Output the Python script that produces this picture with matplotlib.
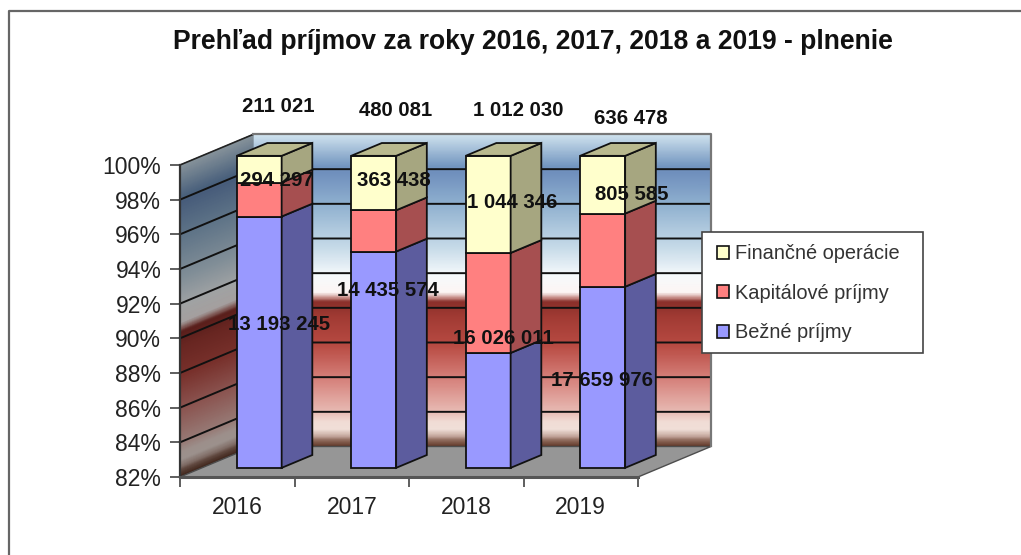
import numpy as np
import matplotlib
matplotlib.use('Agg')
import matplotlib.pyplot as plt
from matplotlib.colors import LinearSegmentedColormap
from matplotlib.lines import Line2D
from matplotlib.patches import Patch, Rectangle

plt.rcParams['font.family'] = ['Liberation Sans', 'DejaVu Sans']

# Data
years = ['2016', '2017', '2018', '2019']
series_names = ['Bežné príjmy', 'Kapitálové príjmy', 'Finančné operácie']
bezne_pct = [96.5, 94.48, 88.63, 92.45]
kapital_pct = [1.96, 2.38, 5.77, 4.22]
financne_pct = [1.54, 3.14, 5.60, 3.33]
bezne_text = ['13 193 245', '14 435 574', '16 026 011', '17 659 976']
kapital_text = ['294 297', '363 438', '1 044 346', '805 585']
financne_text = ['211 021', '480 081', '1 012 030', '636 478']
y_ticks = [82, 84, 86, 88, 90, 92, 94, 96, 98, 100]

# Label anchors in picture pixels, the labels were moved by hand in the original
bezne_xy = [(279, 325), (388, 290), (503, 339), (602, 381)]
kapital_xy = [(277, 180), (394, 181), (512, 202), (632, 195)]
financne_xy = [(278, 106), (396, 110), (518, 110), (631, 119)]

# 3D look: the walls are pushed back by this much in data units
DEPTH_X = 0.6376
DEPTH_Y = 1.76
BAR_D0 = 0.30
BAR_D1 = 0.72
BAR_W = 0.393

FRONT = ['#9999ff', '#ff8080', '#ffffcc']
SIDE = ['#5c5c9e', '#a64f50', '#a6a680']
TOP = '#b9b98e'

# wall gradient, bottom to top
stops = [
    (0.000, '#5f3626'), (0.020, '#8f6a5c'), (0.035, '#c9aca2'), (0.055, '#f0dfd8'),
    (0.080, '#f0dcd5'), (0.110, '#e8bcb5'), (0.220, '#d5807a'), (0.327, '#b84a42'),
    (0.420, '#a03a33'), (0.465, '#8a2f2a'), (0.478, '#c88f8a'), (0.495, '#fdf5f4'),
    (0.550, '#f6fafc'), (0.640, '#c6dae8'), (0.780, '#8fb0cf'), (0.880, '#6f8fbd'),
    (0.900, '#7396c0'), (1.000, '#cfe2ee'),
]
back_cmap = LinearSegmentedColormap.from_list('wall', stops, N=512)
side_colors = [(f, tuple(c * 0.65 for c in matplotlib.colors.to_rgb(h))) for f, h in stops]
side_cmap = LinearSegmentedColormap.from_list('wall_side', side_colors, N=512)


def px(x, y):
    # picture pixels to figure fraction
    return x / 1021, 1 - y / 555


def draw_walls(ax):
    levels = np.linspace(82, 100, 300)
    fr = (levels - 82) / 18

    # back wall
    xx = np.array([[DEPTH_X, 4 + DEPTH_X]] * len(levels))
    yy = np.column_stack([levels, levels]) + DEPTH_Y
    cc = np.column_stack([fr, fr])
    ax.pcolormesh(xx, yy, cc, cmap=back_cmap, vmin=0, vmax=1, shading='gouraud',
                  clip_on=False, zorder=1)

    # left wall
    xx = np.array([[0, DEPTH_X]] * len(levels))
    yy = np.column_stack([levels, levels + DEPTH_Y])
    ax.pcolormesh(xx, yy, cc, cmap=side_cmap, vmin=0, vmax=1, shading='gouraud',
                  clip_on=False, zorder=1)

    # floor
    ax.fill([0, 4, 4 + DEPTH_X, DEPTH_X], [82, 82, 82 + DEPTH_Y, 82 + DEPTH_Y],
            color='#969696', ec='#4d4d4d', lw=1, clip_on=False, zorder=2)

    # gridlines run over both walls
    for v in y_ticks[1:-1]:
        ax.plot([0, DEPTH_X, 4 + DEPTH_X], [v, v + DEPTH_Y, v + DEPTH_Y],
                color='#111111', lw=1.4, clip_on=False, zorder=3)

    top = 100 + DEPTH_Y
    ax.plot([0, DEPTH_X], [100, top], color='#222222', lw=1.2, clip_on=False, zorder=3)
    ax.plot([DEPTH_X, 4 + DEPTH_X, 4 + DEPTH_X], [top, top, 82 + DEPTH_Y],
            color='#777777', lw=1.6, clip_on=False, zorder=3)


def draw_stack(ax, i, bottoms, heights):
    left = i + 0.5 - BAR_W / 2 + BAR_D0 * DEPTH_X
    right = left + BAR_W
    dx = (BAR_D1 - BAR_D0) * DEPTH_X
    dy = (BAR_D1 - BAR_D0) * DEPTH_Y
    shift = BAR_D0 * DEPTH_Y

    for s, (b, h) in enumerate(zip(bottoms, heights)):
        ax.bar(left, h, width=BAR_W, bottom=b + shift, align='edge', color=FRONT[s],
               ec='#111111', lw=1.3, clip_on=False, zorder=5)
        y0 = b + shift
        y1 = y0 + h
        ax.fill([right, right + dx, right + dx, right], [y0, y0 + dy, y1 + dy, y1],
                color=SIDE[s], ec='#111111', lw=1.3, clip_on=False, zorder=5)

    y1 = bottoms[-1] + heights[-1] + shift
    ax.fill([left, right, right + dx, left + dx], [y1, y1, y1 + dy, y1 + dy],
            color=TOP, ec='#111111', lw=1.3, clip_on=False, zorder=5)


fig = plt.figure(figsize=(10.21, 5.55), dpi=100, facecolor='white')
ax = fig.add_axes([180 / 1021, (555 - 477) / 555, (638 - 180) / 1021, (477 - 165) / 555])
ax.set_xlim(0, 4)
ax.set_ylim(82, 100)
ax.patch.set_visible(False)

for side in ['top', 'right']:
    ax.spines[side].set_visible(False)
ax.spines['left'].set_color('#333333')
ax.spines['left'].set_linewidth(1.6)
ax.spines['bottom'].set_color('#555555')
ax.spines['bottom'].set_linewidth(2.2)
ax.spines['left'].set_zorder(4)
ax.spines['bottom'].set_zorder(4)

draw_walls(ax)

values = np.array([bezne_pct, kapital_pct, financne_pct])
starts = np.vstack([np.full(4, 0.0), np.cumsum(values, axis=0)[:-1]])
for i in range(len(years)):
    # the y axis starts at 82 %, bars are cut there
    bottoms = np.maximum(starts[:, i], 82.0)
    heights = values[:, i] - (bottoms - starts[:, i])
    draw_stack(ax, i, bottoms, heights)

ax.set_yticks(y_ticks)
ax.set_yticklabels([f'{v}%' for v in y_ticks], fontsize=16.5, color='#222222')
ax.tick_params(axis='y', length=7, width=1.1, color='#333333', pad=6.5)
ax.set_xticks(range(5))
ax.set_xticklabels([])
ax.tick_params(axis='x', which='major', length=7, width=1.1, color='#333333')
ax.set_xticks(np.arange(4) + 0.5, minor=True)
ax.set_xticklabels(years, minor=True, fontsize=16.5, color='#222222')
ax.tick_params(axis='x', which='minor', length=0, pad=13.5)

fig.text(*px(533, 42), 'Prehľad príjmov za roky 2016, 2017, 2018 a 2019 - plnenie',
         ha='center', va='center', fontsize=19.1, fontweight='bold', color='#111111')

for texts, spots in [(bezne_text, bezne_xy), (kapital_text, kapital_xy), (financne_text, financne_xy)]:
    for t, (x, y) in zip(texts, spots):
        fig.text(*px(x, y), t, ha='center', va='center', fontsize=14.7,
                 fontweight='bold', color='#111111', zorder=10)

# legend frame drawn apart, the padding in the original is not even
box_x, box_y = px(702, 353)
fig.add_artist(Rectangle((box_x, box_y), 221 / 1021, 121 / 555, transform=fig.transFigure,
                         facecolor='white', edgecolor='#444444', lw=1.2, zorder=6))
handles = [Patch(facecolor=FRONT[s], edgecolor='#111111', linewidth=1.2) for s in [2, 1, 0]]
leg = fig.legend(handles, [series_names[s] for s in [2, 1, 0]], loc='upper left',
                 bbox_to_anchor=px(703, 230), borderaxespad=0, fontsize=14.4,
                 frameon=False, labelcolor='#333333', handlelength=0.6, handleheight=0.6,
                 handletextpad=0.3, labelspacing=1.02, borderpad=0.72)
leg.set_zorder(7)

# outer chart frame, only top and left are in the crop
fig.add_artist(Line2D([9 / 1021, 9 / 1021, 1], [0, 1 - 11 / 555, 1 - 11 / 555],
                      color='#666666', lw=1.6, transform=fig.transFigure))

fig.savefig('out.png', dpi=100)
